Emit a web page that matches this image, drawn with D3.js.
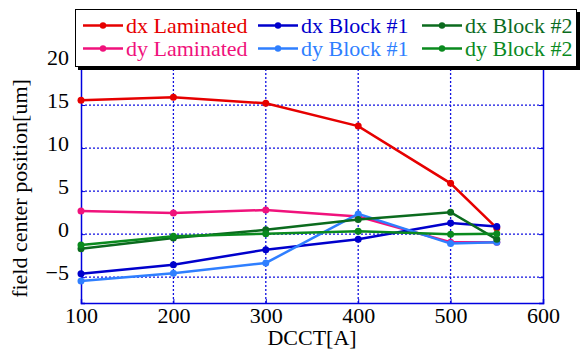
<!DOCTYPE html>
<html>
<head>
<meta charset="utf-8">
<script src="https://cdn.jsdelivr.net/npm/d3@7"></script>
<style>
  body { margin: 0; background: #fff; }
</style>
</head>
<body>
<div id="chart"></div>
<script>
// DCCT current [A]
var currents = [100, 200, 300, 400, 500, 550];

var dxLaminated = [15.55, 15.9, 15.2, 12.55, 5.9, 0.7];
var dyLaminated = [2.7, 2.45, 2.8, 2.05, -0.95, -0.95];
var dxBlock1 = [-4.6, -3.55, -1.8, -0.6, 1.3, 0.9];
var dyBlock1 = [-5.45, -4.55, -3.35, 2.35, -1.1, -0.95];
var dxBlock2 = [-1.7, -0.45, 0.5, 1.7, 2.55, -0.6];
var dyBlock2 = [-1.25, -0.25, 0.05, 0.35, 0.0, 0.05];

var seriesNames = ["dx Laminated", "dy Laminated", "dx Block #1", "dy Block #1", "dx Block #2", "dy Block #2"];
var seriesValues = [dxLaminated, dyLaminated, dxBlock1, dyBlock1, dxBlock2, dyBlock2];
var seriesColors = ["#e60000", "#f0127c", "#0000cc", "#2f7fff", "#0b6b1e", "#0a8a1e"];

var xTicks = [100, 200, 300, 400, 500, 600];
var yTicks = [-5, 0, 5, 10, 15, 20];

var FONT = "'Liberation Serif', 'DejaVu Serif', serif";

var width = 580, height = 349;
var margin = {left: 81, right: 37, top: 62, bottom: 46};

var svg = d3.select("#chart").append("svg")
  .attr("width", width)
  .attr("height", height)
  .attr("font-family", FONT);

var x = d3.scaleLinear().domain([100, 600]).range([margin.left, width - margin.right]);
var y = d3.scaleLinear().domain([-8, 20]).range([height - margin.bottom, margin.top]);

// grid
svg.append("g").selectAll("line")
  .data(xTicks.slice(1, -1))
  .enter().append("line")
    .attr("x1", function(d) { return x(d); })
    .attr("x2", function(d) { return x(d); })
    .attr("y1", y(-8)).attr("y2", y(20))
    .attr("stroke", "#1010e0")
    .attr("stroke-width", 1.3)
    .attr("stroke-dasharray", "2,2");

svg.append("g").selectAll("line")
  .data(yTicks)
  .enter().append("line")
    .attr("x1", x(100)).attr("x2", x(600))
    .attr("y1", function(d) { return y(d); })
    .attr("y2", function(d) { return y(d); })
    .attr("stroke", "#1010e0")
    .attr("stroke-width", 1.3)
    .attr("stroke-dasharray", "2,2");

// axes
var xAxis = svg.append("g")
  .attr("transform", "translate(0," + y(-8) + ")")
  .call(d3.axisBottom(x).tickValues(xTicks).tickSize(-4).tickPadding(3).tickFormat(d3.format("d")));
var yAxis = svg.append("g")
  .attr("transform", "translate(" + x(100) + ",0)")
  .call(d3.axisLeft(y).tickValues(yTicks).tickSize(-4).tickPadding(12).tickFormat(d3.format("d")));
svg.append("g")
  .attr("transform", "translate(" + x(600) + ",0)")
  .call(d3.axisRight(y).tickValues(yTicks).tickSize(-4).tickFormat(""));

[xAxis, yAxis].forEach(function(a) {
  a.attr("font-family", FONT);
  a.selectAll("text")
    .style("font-family", FONT)
    .style("font-size", "22px")
    .attr("fill", "#000");
});
yAxis.selectAll("text").attr("dy", "0.1em");
xAxis.selectAll("text").attr("dy", "0.75em");
svg.selectAll(".domain").attr("stroke", "#0000e0").attr("stroke-width", 1.5);
svg.selectAll(".tick line").attr("stroke", "#0000e0");

// lines
var line = d3.line()
  .x(function(d, i) { return x(currents[i]); })
  .y(function(d) { return y(d); });

seriesValues.forEach(function(vals, k) {
  var g = svg.append("g");
  g.append("path")
    .datum(vals)
    .attr("d", line)
    .attr("fill", "none")
    .attr("stroke", seriesColors[k])
    .attr("stroke-width", 2.5);
  g.selectAll("circle")
    .data(vals)
    .enter().append("circle")
      .attr("cx", function(d, i) { return x(currents[i]); })
      .attr("cy", function(d) { return y(d); })
      .attr("r", 3.5)
      .attr("fill", seriesColors[k]);
});

// axis titles
svg.append("text")
  .attr("x", (x(100) + x(600)) / 2)
  .attr("y", 345)
  .attr("text-anchor", "middle")
  .style("font-family", FONT)
  .style("font-size", "22px")
  .text("DCCT[A]");

svg.append("text")
  .attr("transform", "translate(27," + ((y(-8) + y(20)) / 2 + 6) + ") rotate(-90)")
  .attr("text-anchor", "middle")
  .style("font-family", FONT)
  .style("font-size", "22px")
  .text("field center position[um]");

// legend
var lg = svg.append("g");
lg.append("rect")
  .attr("x", 78).attr("y", 12)
  .attr("width", 502).attr("height", 58)
  .attr("fill", "#000");
lg.append("rect")
  .attr("x", 75.5).attr("y", 9.5)
  .attr("width", 501).attr("height", 57)
  .attr("fill", "#fff")
  .attr("stroke", "#000")
  .attr("stroke-width", 1);

var colX = [83, 258, 422];
var rowY = [25.5, 48.5];
seriesNames.forEach(function(name, k) {
  var cx = colX[Math.floor(k / 2)], cy = rowY[k % 2];
  lg.append("line")
    .attr("x1", cx).attr("x2", cx + 40)
    .attr("y1", cy).attr("y2", cy)
    .attr("stroke", seriesColors[k])
    .attr("stroke-width", 2.5);
  lg.append("circle")
    .attr("cx", cx + 20).attr("cy", cy)
    .attr("r", 3.2)
    .attr("fill", seriesColors[k]);
  lg.append("text")
    .attr("x", cx + 43).attr("y", cy + 7)
    .attr("fill", seriesColors[k])
    .style("font-family", FONT)
    .style("font-size", "22px")
    .text(name);
});
</script>
</body>
</html>
